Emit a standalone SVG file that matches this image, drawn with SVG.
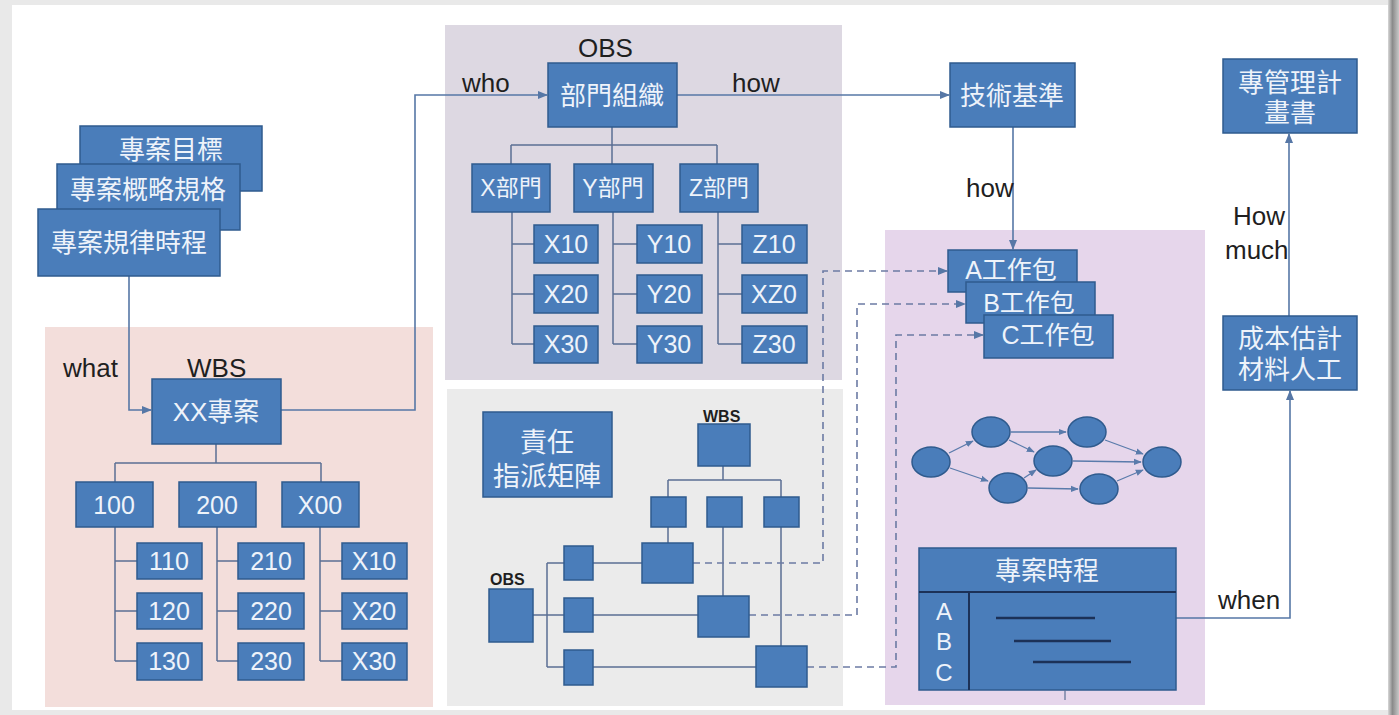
<svg xmlns="http://www.w3.org/2000/svg" width="1399" height="715" viewBox="0 0 1399 715">
<defs>
<linearGradient id="shadow" x1="0" y1="0" x2="1" y2="0">
<stop offset="0" stop-color="#d8d8d8"/><stop offset="0.4" stop-color="#8a8a8a"/><stop offset="1" stop-color="#c8c8c8"/>
</linearGradient>
<marker id="arr" viewBox="0 0 10 10" refX="9" refY="5" markerWidth="10" markerHeight="10" markerUnits="userSpaceOnUse" orient="auto">
<path d="M0,1 L10,5 L0,9 z" fill="#5677a6"/>
</marker>
<marker id="arrs" viewBox="0 0 10 10" refX="9" refY="5" markerWidth="8" markerHeight="8" markerUnits="userSpaceOnUse" orient="auto">
<path d="M0,1 L10,5 L0,9 z" fill="#5a7bab"/>
</marker>
<style>
.box{fill:#4a7dba;stroke:#2f5b8e;stroke-width:1.5}
.t{font-family:"Liberation Sans","Noto Sans CJK TC",sans-serif;fill:#eef3fa;text-anchor:middle;dominant-baseline:central}
.lbl{font-family:"Liberation Sans","Noto Sans CJK TC",sans-serif;fill:#1f1f1f;font-size:26px}
.sm{font-family:"Liberation Sans",sans-serif;fill:#1f1f1f;font-size:16px;font-weight:bold}
.ln{fill:none;stroke:#5b6f94;stroke-width:1.5}
.con{fill:none;stroke:#5677a6;stroke-width:1.6}
.dash{fill:none;stroke:#6c7ba4;stroke-width:1.6;stroke-dasharray:7 5}
.ell{fill:#4a7dba;stroke:#2f5b8e;stroke-width:1.5}
.gl{stroke:#1c3157;stroke-width:2.5}
</style>
</defs>
<rect width="1399" height="715" fill="#e9e9e9"/>
<rect x="12" y="5" width="1376" height="705" fill="#ffffff"/>
<rect x="1388" y="0" width="11" height="715" fill="url(#shadow)"/>

<g id="panels">
<rect x="45" y="327" width="388" height="380" fill="#f3dedb"/>
<rect x="445" y="25" width="397" height="355" fill="#ddd8e2"/>
<rect x="447" y="389" width="396" height="317" fill="#ebebeb"/>
<rect x="885" y="230" width="320" height="475" fill="#e6d6eb"/>
</g>

<g id="connectors">
<path class="con" d="M129,276 V410 H151" marker-end="url(#arr)"/>
<path class="con" d="M281,410 H415 V95 H547" marker-end="url(#arr)"/>
<path class="con" d="M677,95 H949" marker-end="url(#arr)"/>
<path class="con" d="M1013,127 V249" marker-end="url(#arr)"/>
<path class="con" d="M1289,316 V134" marker-end="url(#arr)"/>
<path class="con" d="M1176,618 H1290 V391" marker-end="url(#arr)"/>
<path class="ln" d="M216,444 V463 M115,463 H321 M115,463 V482 M321,463 V482"/>
<path class="ln" d="M115,527 V661 M115,561 H137 M115,611 H137 M115,661 H137"/>
<path class="ln" d="M217,527 V661 M217,561 H238 M217,611 H238 M217,661 H238"/>
<path class="ln" d="M320,527 V661 M320,561 H342 M320,611 H342 M320,661 H342"/>
<path class="ln" d="M612,127 V164 M511,145 H717 M511,145 V164 M717,145 V164"/>
<path class="ln" d="M512,212 V344 M512,244 H534 M512,294 H534 M512,344 H534"/>
<path class="ln" d="M613,212 V344 M613,244 H637 M613,294 H637 M613,344 H637"/>
<path class="ln" d="M718,212 V344 M718,244 H742 M718,294 H742 M718,344 H742"/>
<path class="ln" d="M723,466 V480 M668,480 H781 M668,480 V497 M781,480 V497"/>
<path class="ln" d="M668,527 V543 M723,527 V596 M781,527 V646"/>
<path class="ln" d="M533,615 H564 M547,563 V667 M547,563 H564 M547,667 H564"/>
<path class="ln" d="M593,563 H642 M593,615 H698 M593,667 H756"/>
<path class="dash" d="M693,563 H823 V271 H947" marker-end="url(#arr)"/>
<path class="dash" d="M749,615 H857 V304 H965" marker-end="url(#arr)"/>
<path class="dash" d="M807,667 H896 V335 H983" marker-end="url(#arr)"/>
<g stroke="#5a7bab" stroke-width="1.3" fill="none" marker-end="url(#arrs)">
<line x1="949" y1="453" x2="973" y2="441"/>
<line x1="950" y1="468" x2="988" y2="481"/>
<line x1="1011" y1="432" x2="1066" y2="432"/>
<line x1="1009" y1="440" x2="1034" y2="452"/>
<line x1="1024" y1="478" x2="1036" y2="470"/>
<line x1="1028" y1="488" x2="1078" y2="489"/>
<line x1="1073" y1="461" x2="1141" y2="462"/>
<line x1="1105" y1="440" x2="1143" y2="454"/>
<line x1="1117" y1="481" x2="1143" y2="470"/>
</g>
</g>

<g id="labels">
<text class="lbl" x="63" y="377">what</text>
<text class="lbl" x="187" y="377">WBS</text>
<text class="lbl" x="578" y="57">OBS</text>
<text class="lbl" x="462" y="92">who</text>
<text class="lbl" x="732" y="92">how</text>
<text class="lbl" x="966" y="197">how</text>
<text class="lbl" x="1233" y="225">How</text>
<text class="lbl" x="1225" y="259">much</text>
<text class="lbl" x="1218" y="609">when</text>
<text class="sm" x="703" y="422">WBS</text>
<text class="sm" x="490" y="585">OBS</text>
</g>

<g id="n-goal"><rect class="box" x="80" y="126" width="182" height="65"/><text class="t" x="171" y="150" font-size="26">專案目標</text></g>
<g id="n-spec"><rect class="box" x="57" y="164" width="183" height="66"/><text class="t" x="148" y="190" font-size="26">專案概略規格</text></g>
<g id="n-sched0"><rect class="box" x="38" y="209" width="182" height="67"/><text class="t" x="129" y="243" font-size="26">專案規律時程</text></g>

<g id="n-xx"><rect class="box" x="152" y="379" width="129" height="65"/><text class="t" x="216" y="412" font-size="26">XX專案</text></g>
<g id="n-100"><rect class="box" x="76" y="482" width="77" height="45"/><text class="t" x="114" y="505" font-size="25">100</text></g>
<g id="n-200"><rect class="box" x="179" y="482" width="77" height="45"/><text class="t" x="217" y="505" font-size="25">200</text></g>
<g id="n-x00"><rect class="box" x="282" y="482" width="77" height="45"/><text class="t" x="320" y="505" font-size="25">X00</text></g>
<g id="n-110"><rect class="box" x="137" y="543" width="65" height="36"/><text class="t" x="169" y="561" font-size="25">110</text></g>
<g id="n-120"><rect class="box" x="137" y="593" width="65" height="36"/><text class="t" x="169" y="611" font-size="25">120</text></g>
<g id="n-130"><rect class="box" x="137" y="643" width="65" height="37"/><text class="t" x="169" y="661" font-size="25">130</text></g>
<g id="n-210"><rect class="box" x="238" y="543" width="66" height="36"/><text class="t" x="271" y="561" font-size="25">210</text></g>
<g id="n-220"><rect class="box" x="238" y="593" width="66" height="36"/><text class="t" x="271" y="611" font-size="25">220</text></g>
<g id="n-230"><rect class="box" x="238" y="643" width="66" height="37"/><text class="t" x="271" y="661" font-size="25">230</text></g>
<g id="n-wx10"><rect class="box" x="342" y="543" width="65" height="36"/><text class="t" x="374" y="561" font-size="25">X10</text></g>
<g id="n-wx20"><rect class="box" x="342" y="593" width="65" height="36"/><text class="t" x="374" y="611" font-size="25">X20</text></g>
<g id="n-wx30"><rect class="box" x="342" y="643" width="65" height="37"/><text class="t" x="374" y="661" font-size="25">X30</text></g>

<g id="n-org"><rect class="box" x="548" y="63" width="129" height="64"/><text class="t" x="612" y="96" font-size="26">部門組織</text></g>
<g id="n-xd"><rect class="box" x="472" y="164" width="78" height="48"/><text class="t" x="511" y="188" font-size="23">X部門</text></g>
<g id="n-yd"><rect class="box" x="574" y="164" width="79" height="48"/><text class="t" x="613" y="188" font-size="23">Y部門</text></g>
<g id="n-zd"><rect class="box" x="680" y="164" width="78" height="48"/><text class="t" x="719" y="188" font-size="23">Z部門</text></g>
<g id="n-x10"><rect class="box" x="534" y="225" width="64" height="38"/><text class="t" x="566" y="244" font-size="25">X10</text></g>
<g id="n-x20"><rect class="box" x="534" y="275" width="64" height="38"/><text class="t" x="566" y="294" font-size="25">X20</text></g>
<g id="n-x30"><rect class="box" x="534" y="326" width="64" height="37"/><text class="t" x="566" y="344" font-size="25">X30</text></g>
<g id="n-y10"><rect class="box" x="637" y="225" width="65" height="38"/><text class="t" x="669" y="244" font-size="25">Y10</text></g>
<g id="n-y20"><rect class="box" x="637" y="275" width="65" height="38"/><text class="t" x="669" y="294" font-size="25">Y20</text></g>
<g id="n-y30"><rect class="box" x="637" y="326" width="65" height="37"/><text class="t" x="669" y="344" font-size="25">Y30</text></g>
<g id="n-z10"><rect class="box" x="742" y="225" width="65" height="38"/><text class="t" x="774" y="244" font-size="25">Z10</text></g>
<g id="n-xz0"><rect class="box" x="742" y="275" width="65" height="38"/><text class="t" x="774" y="294" font-size="25">XZ0</text></g>
<g id="n-z30"><rect class="box" x="742" y="326" width="65" height="37"/><text class="t" x="774" y="344" font-size="25">Z30</text></g>

<g id="n-ram"><rect class="box" x="483" y="412" width="129" height="85"/><text class="t" x="547" y="443" font-size="27">責任</text><text class="t" x="547" y="477" font-size="27">指派矩陣</text></g>
<g id="n-mwbs"><rect class="box" x="698" y="424" width="52" height="42"/></g>
<g id="n-mw1"><rect class="box" x="651" y="497" width="35" height="30"/></g>
<g id="n-mw2"><rect class="box" x="707" y="497" width="35" height="30"/></g>
<g id="n-mw3"><rect class="box" x="764" y="497" width="35" height="30"/></g>
<g id="n-mobs"><rect class="box" x="489" y="589" width="44" height="53"/></g>
<g id="n-mo1"><rect class="box" x="564" y="546" width="29" height="34"/></g>
<g id="n-mo2"><rect class="box" x="564" y="598" width="29" height="34"/></g>
<g id="n-mo3"><rect class="box" x="564" y="650" width="29" height="35"/></g>
<g id="n-ma"><rect class="box" x="642" y="543" width="51" height="40"/></g>
<g id="n-mb"><rect class="box" x="698" y="596" width="51" height="41"/></g>
<g id="n-mc"><rect class="box" x="756" y="646" width="51" height="41"/></g>

<g id="n-tech"><rect class="box" x="950" y="63" width="125" height="64"/><text class="t" x="1012" y="96" font-size="26">技術基準</text></g>
<g id="n-plan"><rect class="box" x="1223" y="59" width="134" height="74"/><text class="t" x="1290" y="83" font-size="26">專管理計</text><text class="t" x="1290" y="113" font-size="26">畫書</text></g>
<g id="n-cost"><rect class="box" x="1223" y="316" width="134" height="74"/><text class="t" x="1290" y="339" font-size="26">成本估計</text><text class="t" x="1290" y="370" font-size="26">材料人工</text></g>

<g id="n-wpa"><rect class="box" x="948" y="250" width="129" height="42"/><text class="t" x="1011" y="270" font-size="25">A工作包</text></g>
<g id="n-wpb"><rect class="box" x="966" y="282" width="129" height="41"/><text class="t" x="1029" y="303" font-size="25">B工作包</text></g>
<g id="n-wpc"><rect class="box" x="984" y="315" width="129" height="43"/><text class="t" x="1048" y="335" font-size="25">C工作包</text></g>

<g id="n-network">
<ellipse class="ell" cx="931" cy="462" rx="19" ry="15"/>
<ellipse class="ell" cx="991" cy="432" rx="19" ry="15"/>
<ellipse class="ell" cx="1087" cy="432" rx="19" ry="15"/>
<ellipse class="ell" cx="1053" cy="461" rx="19" ry="15"/>
<ellipse class="ell" cx="1008" cy="488" rx="19" ry="15"/>
<ellipse class="ell" cx="1099" cy="489" rx="19" ry="15"/>
<ellipse class="ell" cx="1162" cy="462" rx="19" ry="15"/>
</g>

<g id="n-schedule">
<rect class="box" x="919" y="548" width="257" height="142"/>
<line x1="919" y1="592" x2="1176" y2="592" stroke="#1c3157" stroke-width="2"/>
<line x1="969" y1="592" x2="969" y2="690" stroke="#1c3157" stroke-width="2"/>
<text class="t" x="1047" y="571" font-size="26">專案時程</text>
<text class="t" x="944" y="611" font-size="24">A</text>
<text class="t" x="944" y="641" font-size="24">B</text>
<text class="t" x="944" y="672" font-size="24">C</text>
<line class="gl" x1="996" y1="618" x2="1095" y2="618"/>
<line class="gl" x1="1014" y1="641" x2="1111" y2="641"/>
<line class="gl" x1="1033" y1="662" x2="1131" y2="662"/>
<line x1="1065" y1="690" x2="1065" y2="700" stroke="#5b6f94" stroke-width="1.2"/>
</g>
</svg>
